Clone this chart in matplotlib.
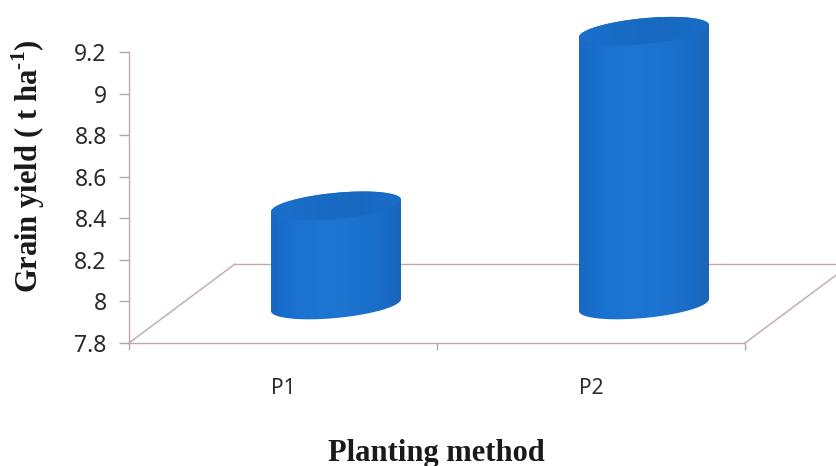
import numpy as np
import matplotlib
matplotlib.use('Agg')
import matplotlib.pyplot as plt
from matplotlib.colors import LinearSegmentedColormap
from matplotlib.patches import PathPatch, Polygon
from matplotlib.path import Path

# data
categories = ['P1', 'P2']
grain_yield = [8.27, 9.11]
y_ticks = [7.8, 8, 8.2, 8.4, 8.6, 8.8, 9, 9.2]
y_tick_labels = ['7.8', '8', '8.2', '8.4', '8.6', '8.8', '9', '9.2']

W, H = 836, 466
line_col = '#bfa9a9'
tick_col = '#b0a8a8'
text_col = '#2a2a2a'

plt.rcParams['mathtext.fontset'] = 'custom'
plt.rcParams['mathtext.bf'] = 'Liberation Serif:bold'
plt.rcParams['mathtext.rm'] = 'Liberation Serif:bold'

fig = plt.figure(figsize=(W / 100, H / 100), dpi=100)
ax = fig.add_axes([129 / W, 1 - 343 / H, 616 / W, 291 / H])
ax.set_xlim(-0.5, 1.5)
ax.set_ylim(7.8, 9.2)

# pixels to data units
px_x = 2 / 616
px_y = 1.4 / 291

# 3D floor
depth_x = 106 * px_x
depth_y = 79 * px_y
floor_y = y_ticks[0]
ax.plot([-0.5, -0.5 + depth_x], [floor_y, floor_y + depth_y], color=line_col, lw=1, clip_on=False)
ax.plot([-0.5 + depth_x, 1.5 + depth_x * 2], [floor_y + depth_y] * 2, color=line_col, lw=1, clip_on=False)
ax.plot([1.5, 1.5 + depth_x], [floor_y, floor_y + depth_y], color=line_col, lw=1, clip_on=False)

# cylinders
body_cmap = LinearSegmentedColormap.from_list('body', ['#1868c4', '#1b72d0', '#1d76d4', '#1c74d0', '#1a6fca', '#1865ba'])
top_cmap = LinearSegmentedColormap.from_list('top', ['#1b70cc', '#186cc6', '#1769c0', '#1a6ec8'])
a = 65 * px_x
b = 13 * px_y
k = 6 * px_y
for i, val in enumerate(grain_yield):
    cx = i + depth_x / 2
    y_top = val + depth_y / 2
    y_bot = floor_y + depth_y / 2 - 1.5 * px_y
    t = np.linspace(0, np.pi, 60)
    top_x = cx + a * np.cos(t)
    top_y = y_top + b * np.sin(t) + k * np.cos(t)
    bot_x = cx + a * np.cos(t + np.pi)
    bot_y = y_bot + b * np.sin(t + np.pi) + k * np.cos(t + np.pi)
    outline = np.vstack([np.column_stack([top_x, top_y]), np.column_stack([bot_x, bot_y])])
    body = Polygon(outline, closed=True, fc='none', ec='none', transform=ax.transData, clip_on=False)
    ax.add_patch(body)
    grad = np.linspace(0, 1, 200).reshape(1, -1)
    im = ax.imshow(grad, cmap=body_cmap, aspect='auto', zorder=3,
                   extent=[cx - a, cx + a, y_bot - b - k, y_top + b + k])
    im.set_clip_box(fig.bbox)
    im.set_clip_path(body)

    t2 = np.linspace(0, 2 * np.pi, 100)
    ell = np.column_stack([cx + a * np.cos(t2), y_top + b * np.sin(t2) + k * np.cos(t2)])
    cap = PathPatch(Path(ell), fc='none', ec='none', transform=ax.transData, clip_on=False)
    ax.add_patch(cap)
    im2 = ax.imshow(grad, cmap=top_cmap, aspect='auto', zorder=4,
                    extent=[cx - a, cx + a, y_top - b - k, y_top + b + k])
    im2.set_clip_box(fig.bbox)
    im2.set_clip_path(cap)

ax.set_xlim(-0.5, 1.5)
ax.set_ylim(7.8, 9.2)

for s in ['top', 'right']:
    ax.spines[s].set_visible(False)
for s in ['left', 'bottom']:
    ax.spines[s].set_color(line_col)
    ax.spines[s].set_linewidth(1)

ax.set_yticks(y_ticks, labels=y_tick_labels)
ax.set_xticks([-0.5, 0.5, 1.5], labels=[])
ax.set_xticks([0, 1], labels=categories, minor=True)
ax.tick_params(axis='y', length=7, width=1, color=tick_col, pad=9, labelsize=16.5, labelcolor=text_col)
ax.tick_params(axis='x', which='major', length=5, width=1, color=tick_col)
ax.tick_params(axis='x', which='minor', length=0, pad=25, labelsize=15, labelcolor=text_col)
for lab in ax.get_yticklabels() + ax.get_xticklabels(minor=True):
    lab.set_family('Noto Sans')

fig.text(28 / W, 1 - 166 / H, r'Grain yield ( t ha$^{\text{-1}}$)', rotation=90, ha='center', va='center',
         family='Liberation Serif', fontweight='bold', fontsize=22, color='#1a1a1a')
fig.text(436 / W, 1 - 453 / H, 'Planting method', ha='center', va='center',
         family='Liberation Serif', fontweight='bold', fontsize=22, color='#1a1a1a')

fig.savefig('out.png', dpi=100)
